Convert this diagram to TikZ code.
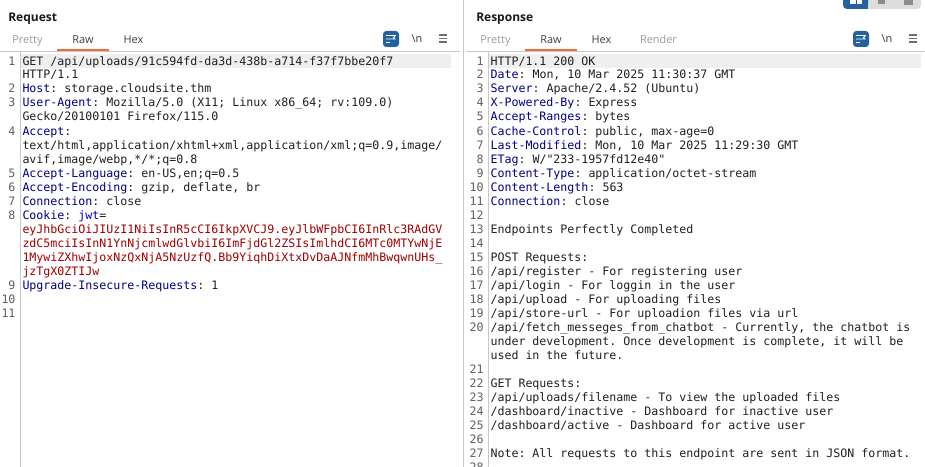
\documentclass[tikz,border=0pt]{standalone}
\usepackage{fontspec}
\setmainfont{Open Sans}
\setmonofont{DejaVu Sans Mono}
\definecolor{hdrblue}{HTML}{000080}
\definecolor{jwtblue}{HTML}{0000C0}
\definecolor{tokred}{HTML}{A00000}
\definecolor{codeink}{HTML}{202020}
\definecolor{numink}{HTML}{606060}
\definecolor{rulegrey}{HTML}{C8C8C8}
\definecolor{hilite}{HTML}{EFEFEF}
\definecolor{tabgrey}{HTML}{9A9A9A}
\definecolor{tabink}{HTML}{404040}
\definecolor{tabline}{HTML}{F26B3A}
\definecolor{btnblue}{HTML}{23629F}
\definecolor{btngrey}{HTML}{DDDDDD}
\definecolor{menugrey}{HTML}{6E6E6E}
\tikzset{
  codeline/.style={anchor=base west,inner sep=0pt,outer sep=0pt,text=codeink,font=\ttfamily\fontsize{8.72pt}{10pt}\selectfont},
  numline/.style={anchor=base east,inner sep=0pt,outer sep=0pt,text=numink,font=\ttfamily\fontsize{8.72pt}{10pt}\selectfont},
  panetitle/.style={anchor=base west,inner sep=0pt,font=\bfseries\fontsize{9pt}{11pt}\selectfont,text=black!90},
  tabon/.style={anchor=base,inner sep=0pt,font=\fontsize{8.2pt}{10pt}\selectfont,text=tabink},
  taboff/.style={tabon,text=tabgrey},
  wrapbtn/.style={fill=btnblue,rounded corners=2.5pt},
  menubar/.style={draw=menugrey,line width=1.05pt},
  wrapline/.style={draw=white,line width=0.6pt}
}
\newcommand{\hdr}[1]{\textcolor{hdrblue}{#1}}
\begin{document}
\begin{tikzpicture}[x=0.75pt,y=-0.75pt]
\useasboundingbox (0,0) rectangle (925,467);
\clip (0,0) rectangle (925,467);
\fill [white] (0,0) rectangle (925,467);
% rules and highlights
\fill [hilite] (21,54) rectangle (451,68);
\fill [hilite] (489,54) rectangle (921,68);
\draw [rulegrey,line width=0.75pt] (0,51.5) -- (460,51.5);
\draw [rulegrey,line width=0.75pt] (466,51.5) -- (925,51.5);
\draw [rulegrey,line width=0.75pt] (463.5,0) -- (463.5,467);
\draw [rulegrey,line width=0.75pt] (20,52) -- (20,467);
\draw [rulegrey,line width=0.75pt] (488,52) -- (488,467);
\fill [tabline] (57,49) rectangle (109,51);
\fill [tabline] (525,49) rectangle (577,51);
% view buttons, top right
\fill [btngrey,rounded corners=3pt] (860,-6) rectangle (921,9);
\fill [btnblue,rounded corners=3pt] (843,-6) rectangle (868,9);
\fill [btnblue] (860,-6) rectangle (868,9);
\fill [white] (850,0) rectangle (855.5,4.5);
\fill [white] (856.5,0) rectangle (862,4.5);
\fill [menugrey!80] (878,0) rectangle (885,4.5);
\fill [menugrey!80] (904,0) rectangle (913,5);
% titles and tabs
\node [panetitle] (reqtitle) at (8,22) {Request};
\node [panetitle] (resptitle) at (476,22) {Response};
\node [taboff] (reqpretty) at (27.5,44) {Pretty};
\node [tabon] (reqraw) at (83,44) {Raw};
\node [tabon] (reqhex) at (133.5,44) {Hex};
\node [taboff] (resppretty) at (495.5,44) {Pretty};
\node [tabon] (respraw) at (551,44) {Raw};
\node [tabon] (resphex) at (601.5,44) {Hex};
\node [taboff] (resprender) at (658.5,44) {Render};
% wrap, newline and menu controls
\foreach \bx/\nx/\mx in {383/417/439,853/887/909}{
  \fill [wrapbtn] (\bx,31) rectangle (\bx+16,47);
  \draw [wrapline] (\bx+3,35.5) -- (\bx+13,35.5);
  \draw [wrapline] (\bx+3,39) -- (\bx+12,39) arc (-90:90:-1.5 and -1.5);
  \draw [wrapline] (\bx+3,42.5) -- (\bx+7,42.5);
  \node [tabon,text=black!80] at (\nx,42.5) {\textbackslash n};
  \draw [menubar] (\mx,35) -- (\mx+8,35);
  \draw [menubar] (\mx,38.5) -- (\mx+8,38.5);
  \draw [menubar] (\mx,42) -- (\mx+8,42);
}
% request line numbers
\foreach \n/\ly in {1/65,2/93,3/107,4/135,5/177,6/191,7/205,8/219,9/289,10/303,11/317}{
  \node [numline] (reqnum\n) at (15.5,\ly) {\n};
}
% request
\node [codeline] (reqget) at (22.5,65) {GET /api/uploads/91c594fd-da3d-438b-a714-f37f7bbe20f7};
\node [codeline] (reqver) at (22.5,79) {HTTP/1.1};
\node [codeline] (reqhost) at (22.5,93) {\hdr{Host}: storage.cloudsite.thm};
\node [codeline] (requa) at (22.5,107) {\hdr{User-Agent}: Mozilla/5.0 (X11; Linux x86\_64; rv:109.0)};
\node [codeline] (requb) at (22.5,121) {Gecko/20100101 Firefox/115.0};
\node [codeline] (reqacc) at (22.5,135) {\hdr{Accept}:};
\node [codeline] (reqacca) at (22.5,149) {text/html,application/xhtml+xml,application/xml;q=0.9,image/};
\node [codeline] (reqaccb) at (22.5,163) {avif,image/webp,*/*;q=0.8};
\node [codeline] (reqlang) at (22.5,177) {\hdr{Accept-Language}: en-US,en;q=0.5};
\node [codeline] (reqenc) at (22.5,191) {\hdr{Accept-Encoding}: gzip, deflate, br};
\node [codeline] (reqconn) at (22.5,205) {\hdr{Connection}: close};
\node [codeline] (reqcook) at (22.5,219) {\hdr{Cookie}: \textcolor{jwtblue}{jwt}=};
\node [codeline,text=tokred] (reqjwta) at (22.5,233) {eyJhbGciOiJIUzI1NiIsInR5cCI6IkpXVCJ9.eyJlbWFpbCI6InRlc3RAdGV};
\node [codeline,text=tokred] (reqjwtb) at (22.5,247) {zdC5mciIsInN1YnNjcmlwdGlvbiI6ImFjdGl2ZSIsImlhdCI6MTc0MTYwNjE};
\node [codeline,text=tokred] (reqjwtc) at (22.5,261) {1MywiZXhwIjoxNzQxNjA5NzUzfQ.Bb9YiqhDiXtxDvDaAJNfmMhBwqwnUHs\_};
\node [codeline,text=tokred] (reqjwtd) at (22.5,275) {jzTgX0ZTIJw};
\node [codeline] (requp) at (22.5,289) {\hdr{Upgrade-Insecure-Requests}: 1};
% response line numbers
\foreach \n/\ly in {1/65,2/79,3/93,4/107,5/121,6/135,7/149,8/163,9/177,10/191,11/205,12/219,13/233,14/247,15/261,16/275,17/289,18/303,19/317,20/331,21/373,22/387,23/401,24/415,25/429,26/443,27/457,28/471}{
  \node [numline] (respnum\n) at (483.5,\ly) {\n};
}
% response
\node [codeline] (respstat) at (490.5,65) {HTTP/1.1 200 OK};
\node [codeline] (respdate) at (490.5,79) {\hdr{Date}: Mon, 10 Mar 2025 11:30:37 GMT};
\node [codeline] (respserv) at (490.5,93) {\hdr{Server}: Apache/2.4.52 (Ubuntu)};
\node [codeline] (resppow) at (490.5,107) {\hdr{X-Powered-By}: Express};
\node [codeline] (respacc) at (490.5,121) {\hdr{Accept-Ranges}: bytes};
\node [codeline] (respcache) at (490.5,135) {\hdr{Cache-Control}: public, max-age=0};
\node [codeline] (respmod) at (490.5,149) {\hdr{Last-Modified}: Mon, 10 Mar 2025 11:29:30 GMT};
\node [codeline] (respetag) at (490.5,163) {\hdr{ETag}: W/"233-1957fd12e40"};
\node [codeline] (resptype) at (490.5,177) {\hdr{Content-Type}: application/octet-stream};
\node [codeline] (resplen) at (490.5,191) {\hdr{Content-Length}: 563};
\node [codeline] (respconn) at (490.5,205) {\hdr{Connection}: close};
\node [codeline] (respdone) at (490.5,233) {Endpoints Perfectly Completed};
\node [codeline] (resppost) at (490.5,261) {POST Requests:};
\node [codeline] (respreg) at (490.5,275) {/api/register - For registering user};
\node [codeline] (resplog) at (490.5,289) {/api/login - For loggin in the user};
\node [codeline] (respupl) at (490.5,303) {/api/upload - For uploading files};
\node [codeline] (respstore) at (490.5,317) {/api/store-url - For uploadion files via url};
\node [codeline] (respchat) at (490.5,331) {/api/fetch\_messeges\_from\_chatbot - Currently, the chatbot is};
\node [codeline] (respchatb) at (490.5,345) {under development. Once development is complete, it will be};
\node [codeline] (respchatc) at (490.5,359) {used in the future.};
\node [codeline] (respget) at (490.5,387) {GET Requests:};
\node [codeline] (respview) at (490.5,401) {/api/uploads/filename - To view the uploaded files};
\node [codeline] (respinact) at (490.5,415) {/dashboard/inactive - Dashboard for inactive user};
\node [codeline] (respact) at (490.5,429) {/dashboard/active - Dashboard for active user};
\node [codeline] (respnote) at (490.5,457) {Note: All requests to this endpoint are sent in JSON format.};
\end{tikzpicture}
\end{document}
